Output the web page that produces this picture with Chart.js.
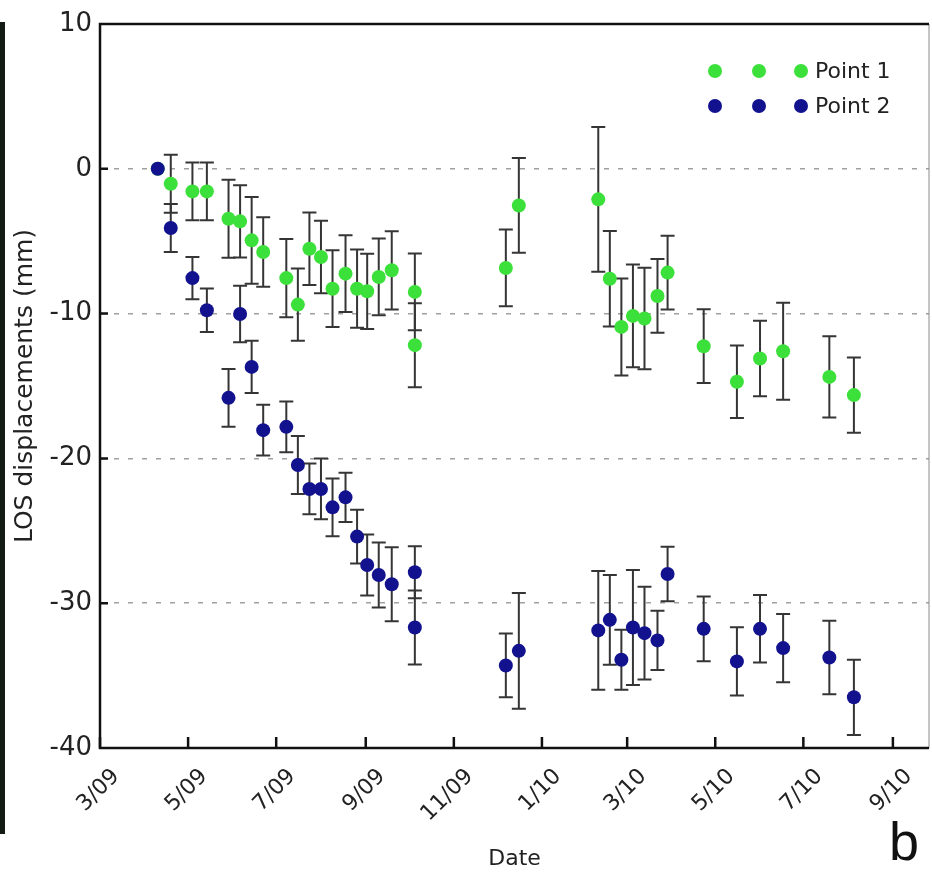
<!DOCTYPE html>
<html lang="en">
<head>
    <meta charset="UTF-8">
    <title>LOS displacements - Point 1 / Point 2</title>
    <style>
        * { margin: 0; padding: 0; box-sizing: border-box; }
        body { background-color: #fff; width: 932px; height: 875px; overflow: hidden; }
        #wrap { position: relative; width: 932px; height: 875px; }
        #edge { position: absolute; left: 0; top: 22px; width: 5px; height: 812px; background-color: #141a14; }
    </style>
</head>
<body>
    <div id="wrap">
        <canvas id="chart"></canvas>
        <div id="edge"></div>
    </div>

    <script src="https://cdn.jsdelivr.net/npm/chart.js@4.4.1/dist/chart.umd.min.js"></script>
    <script>
        // acquisition dates (both points share them)
        const dates = [
            '2009-04-10', '2009-04-19', '2009-05-04', '2009-05-14', '2009-05-29', '2009-06-06',
            '2009-06-14', '2009-06-22', '2009-07-08', '2009-07-16', '2009-07-24', '2009-08-01',
            '2009-08-09', '2009-08-18', '2009-08-26', '2009-09-02', '2009-09-10', '2009-09-19',
            '2009-10-05', '2009-10-05', '2009-12-07', '2009-12-16', '2010-02-09', '2010-02-17',
            '2010-02-25', '2010-03-05', '2010-03-13', '2010-03-22', '2010-03-29', '2010-04-23',
            '2010-05-16', '2010-06-01', '2010-06-17', '2010-07-19', '2010-08-05'
        ];

        const point1 = [
            0, -1.03, -1.56, -1.56, -3.45, -3.63, -4.94, -5.75, -7.55, -9.38, -5.52, -6.09,
            -8.28, -7.24, -8.28, -8.46, -7.47, -7.01, -8.5, -12.18, -6.85, -2.53, -2.11, -7.59,
            -10.92, -10.16, -10.34, -8.78, -7.17, -12.25, -14.71, -13.1, -12.6, -14.37, -15.63
        ];
        const point1Err = [
            0, 2.0, 2.0, 2.0, 2.7, 2.5, 3.0, 2.4, 2.7, 2.5, 2.5, 2.5,
            2.65, 2.65, 2.7, 2.6, 2.65, 2.7, 2.65, 2.9, 2.65, 3.27, 5.0, 3.3,
            3.35, 3.55, 3.5, 2.55, 2.55, 2.55, 2.5, 2.6, 3.35, 2.8, 2.6
        ];

        const point2 = [
            0, -4.09, -7.55, -9.77, -15.82, -10.03, -13.68, -18.05, -17.82, -20.46, -22.11, -22.11,
            -23.38, -22.69, -25.4, -27.36, -28.05, -28.69, -27.86, -31.68, -34.3, -33.29, -31.88, -31.15,
            -33.91, -31.68, -32.07, -32.57, -27.98, -31.77, -34.02, -31.77, -33.1, -33.75, -36.5
        ];
        const point2Err = [
            0, 1.66, 1.46, 1.5, 2.0, 1.95, 1.8, 1.75, 1.75, 2.0, 1.75, 2.1,
            2.0, 1.7, 1.85, 2.1, 2.25, 2.55, 1.8, 2.55, 2.2, 4.0, 4.1, 3.1,
            2.07, 3.97, 3.2, 2.05, 1.88, 2.24, 2.36, 2.33, 2.36, 2.53, 2.6
        ];

        const tickDates = ['2009-03-01', '2009-05-01', '2009-07-01', '2009-09-01', '2009-11-01',
                           '2010-01-01', '2010-03-01', '2010-05-01', '2010-07-01', '2010-09-01'];
        const tickLabels = ['3/09', '5/09', '7/09', '9/09', '11/09', '1/10', '3/10', '5/10', '7/10', '9/10'];
        const axisEnd = '2010-09-26';

        const seriesNames = ['Point 1', 'Point 2'];
        const green = '#3ce03a';
        const blue = '#12128f';

        // days since 1 March 2009
        function toDay(s) {
            const p = s.split('-').map(Number);
            return (Date.UTC(p[0], p[1] - 1, p[2]) - Date.UTC(2009, 2, 1)) / 86400000;
        }

        const days = dates.map(toDay);
        const tickDays = tickDates.map(toDay);
        const errs = [point1Err, point2Err];

        const extras = {
            id: 'extras',
            beforeDatasetsDraw(chart) {
                const ctx = chart.ctx;
                const y = chart.scales.y;
                ctx.save();
                ctx.strokeStyle = '#353535';
                ctx.lineWidth = 2;
                chart.data.datasets.forEach((ds, di) => {
                    const meta = chart.getDatasetMeta(di);
                    meta.data.forEach((pt, i) => {
                        const e = errs[di][i];
                        if (!e) return;
                        const v = ds.data[i].y;
                        const top = y.getPixelForValue(v + e);
                        const bot = y.getPixelForValue(v - e);
                        ctx.beginPath();
                        ctx.moveTo(pt.x, top); ctx.lineTo(pt.x, bot);
                        ctx.moveTo(pt.x - 7, top); ctx.lineTo(pt.x + 7, top);
                        ctx.moveTo(pt.x - 7, bot); ctx.lineTo(pt.x + 7, bot);
                        ctx.stroke();
                    });
                });
                ctx.restore();
            },
            afterDraw(chart) {
                const ctx = chart.ctx;
                const a = chart.chartArea;
                const x = chart.scales.x;
                const y = chart.scales.y;
                ctx.save();

                // box
                ctx.strokeStyle = '#8a8a8a';
                ctx.lineWidth = 1;
                ctx.beginPath(); ctx.moveTo(a.right, a.top); ctx.lineTo(a.right, a.bottom); ctx.stroke();
                ctx.strokeStyle = '#111';
                ctx.lineWidth = 2.5;
                ctx.beginPath();
                ctx.moveTo(a.right, a.top); ctx.lineTo(a.left, a.top);
                ctx.lineTo(a.left, a.bottom); ctx.lineTo(a.right, a.bottom);
                ctx.stroke();

                // inward ticks
                ctx.lineWidth = 2.5;
                ctx.beginPath();
                tickDays.forEach(d => {
                    const px = x.getPixelForValue(d);
                    ctx.moveTo(px, a.bottom); ctx.lineTo(px, a.bottom - 11);
                });
                [0, -10, -20, -30].forEach(v => {
                    const py = y.getPixelForValue(v);
                    ctx.moveTo(a.left, py); ctx.lineTo(a.left + 8, py);
                });
                ctx.stroke();

                // rotated date labels
                ctx.fillStyle = '#222';
                ctx.font = '22px "DejaVu Sans"';
                ctx.textAlign = 'right';
                ctx.textBaseline = 'middle';
                tickDays.forEach((d, i) => {
                    const px = x.getPixelForValue(d);
                    ctx.save();
                    ctx.translate(px + 16, a.bottom + 25);
                    ctx.rotate(-Math.PI / 4);
                    ctx.fillText(tickLabels[i], 0, 0);
                    ctx.restore();
                });

                // legend: three markers per entry
                const cols = [green, blue];
                ctx.textAlign = 'left';
                ctx.font = '22px "DejaVu Sans"';
                seriesNames.forEach((name, i) => {
                    const ly = 71 + i * 35;
                    [715, 759, 801].forEach(lx => {
                        ctx.beginPath();
                        ctx.arc(lx, ly, 7, 0, Math.PI * 2);
                        ctx.fillStyle = cols[i];
                        ctx.fill();
                    });
                    ctx.fillStyle = '#222';
                    ctx.fillText(name, 815, ly + 1);
                });

                // panel letter
                ctx.font = '54px "Liberation Sans"';
                ctx.textAlign = 'left';
                ctx.textBaseline = 'alphabetic';
                ctx.fillStyle = '#111';
                ctx.fillText('b', 889, 860);
                ctx.restore();
            }
        };

        const ctx = document.getElementById('chart').getContext('2d');
        new Chart(ctx, {
            type: 'scatter',
            data: {
                datasets: [
                    {
                        label: seriesNames[0],
                        data: days.map((d, i) => ({ x: d, y: point1[i] })),
                        backgroundColor: green,
                        borderColor: green,
                        pointRadius: 7,
                        pointBorderWidth: 0,
                        order: 1
                    },
                    {
                        label: seriesNames[1],
                        data: days.map((d, i) => ({ x: d, y: point2[i] })),
                        backgroundColor: blue,
                        borderColor: blue,
                        pointRadius: 7,
                        pointBorderWidth: 0,
                        order: 0
                    }
                ]
            },
            options: {
                responsive: true,
                maintainAspectRatio: false,
                animation: false,
                layout: { autoPadding: false, padding: { top: 24, right: 3, left: 0, bottom: 0 } },
                plugins: { legend: { display: false }, tooltip: { enabled: false } },
                scales: {
                    x: {
                        type: 'linear',
                        min: 0,
                        max: toDay(axisEnd),
                        afterBuildTicks: (s) => { s.ticks = tickDays.map(v => ({ value: v })); },
                        afterFit: (s) => { s.height = 127; },
                        grid: { display: false },
                        border: { display: false },
                        ticks: { display: false },
                        title: {
                            display: true, text: 'Date', color: '#222',
                            font: { family: 'DejaVu Sans', size: 22 },
                            padding: { top: 3, bottom: 3 }
                        }
                    },
                    y: {
                        min: -40,
                        max: 10,
                        afterFit: (s) => { s.width = 100; },
                        ticks: {
                            stepSize: 10, padding: 8, color: '#222',
                            font: { family: 'DejaVu Sans', size: 26 }
                        },
                        grid: {
                            drawTicks: false,
                            lineWidth: 1.5,
                            color: (c) => (c.tick && c.tick.value < 10 && c.tick.value > -40) ? '#a0a0a0' : 'transparent'
                        },
                        border: { display: false, dash: [5, 9] },
                        title: {
                            display: true, text: 'LOS displacements (mm)', color: '#222',
                            font: { family: 'DejaVu Sans', size: 25 },
                            padding: { top: 10, bottom: 0 }
                        }
                    }
                }
            },
            plugins: [extras]
        });
    </script>
</body>
</html>
